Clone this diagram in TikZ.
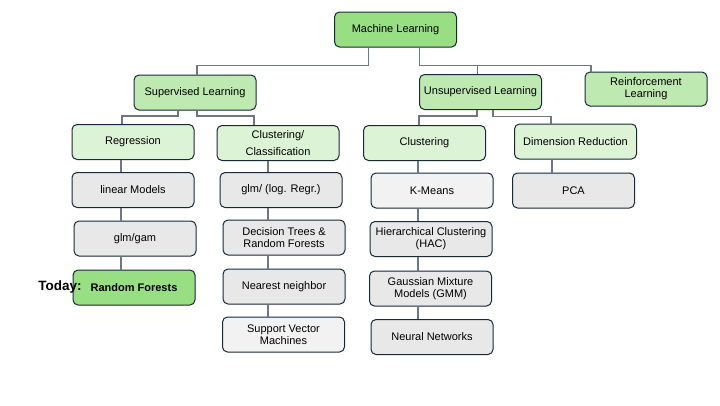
\documentclass[tikz,border=0pt]{standalone}
\usepackage{fontspec}
\setmainfont{Liberation Sans}
\usepackage{tikz}
\definecolor{leafgreen}{RGB}{152, 222, 130}
\definecolor{midgreen}{RGB}{190, 233, 176}
\definecolor{palegreen}{RGB}{221, 243, 214}
\definecolor{boxgray}{RGB}{232, 232, 232}
\definecolor{softgray}{RGB}{242, 242, 242}
\definecolor{inkblue}{RGB}{25, 40, 58}
\definecolor{wiregray}{RGB}{110, 120, 130}

\begin{document}
\begin{tikzpicture}[x=1pt, y=-1pt,
        box/.style={draw=inkblue, line width=1pt, rounded corners=5pt, minimum width=122pt,
                    minimum height=35pt, align=center, inner sep=2pt, font=\fontsize{11}{12}\selectfont},
        link/.style={draw=wiregray, line width=1.2pt}]
            % Frame to fix the page size:
            \useasboundingbox (0,0) rectangle (720,405);
            % Top and first level:
            \node[box, fill=leafgreen]  (ml)    at (395.5, 29.5) {Machine Learning};
            \node[box, fill=midgreen]   (sup)   at (195.0, 92.5) {Supervised Learning};
            \node[box, fill=midgreen]   (unsup) at (480.5, 92.0) {Unsupervised Learning};
            \node[box, fill=midgreen, minimum height=34pt] (rl) at (646.0, 89.0) {Reinforcement\\Learning};
            % Second level:
            \node[box, fill=palegreen]  (reg)   at (133.0, 142.0) {Regression};
            \node[box, fill=palegreen]  (cc)    at (278.0, 143.0) {Clustering/\\[5pt]Classification};
            \node[box, fill=palegreen]  (clu)   at (424.5, 143.0) {Clustering};
            \node[box, fill=palegreen]  (dr)    at (575.5, 141.5) {Dimension Reduction};
            % Methods:
            \node[box, fill=boxgray]    (lin)   at (133.0, 190.0) {linear Models};
            \node[box, fill=boxgray]    (gam)   at (135.0, 238.5) {glm/gam};
            \node[box, fill=leafgreen, font=\fontsize{11}{12}\selectfont\bfseries] (rf) at (134.0, 287.5) {Random Forests};
            \node[box, fill=boxgray]    (glml)  at (281.0, 190.0) {glm/ (log. Regr.)};
            \node[box, fill=boxgray]    (dt)    at (284.0, 237.5) {Decision Trees \&\\Random Forests};
            \node[box, fill=boxgray]    (nn)    at (284.0, 286.5) {Nearest neighbor};
            \node[box, fill=softgray]   (svm)   at (283.5, 334.5) {Support Vector\\Machines};
            \node[box, fill=softgray]   (km)    at (432.0, 190.5) {K-Means};
            \node[box, fill=boxgray]    (hac)   at (431.0, 239.0) {Hierarchical Clustering\\(HAC)};
            \node[box, fill=boxgray]    (gmm)   at (430.5, 288.5) {Gaussian Mixture\\Models (GMM)};
            \node[box, fill=boxgray]    (nnw)   at (432.0, 337.0) {Neural Networks};
            \node[box, fill=boxgray]    (pca)   at (573.5, 190.5) {PCA};
            \node[font=\fontsize{13.5}{15}\selectfont\bfseries] (today) at (60.0, 287.5) {Today:};
            % Branches:
            \draw[link] ([xshift=-27pt]ml.south) |- ([xshift=2pt, yshift=9pt]sup.north) -- ([xshift=2pt]sup.north);
            \draw[link] ([xshift=24pt]ml.south) |- ([xshift=-55pt, yshift=6pt]rl.north) -- ([xshift=-55pt]rl.north);
            \draw[link] ([xshift=-3pt, yshift=9pt]unsup.north) -- ([xshift=-3pt]unsup.north);
            \draw[link] ([xshift=-17pt]sup.south) |- ([xshift=-11pt, yshift=8pt]reg.north) -- ([xshift=-11pt]reg.north);
            \draw[link] ([xshift=2pt]sup.south) |- ([xshift=-24pt, yshift=9pt]cc.north) -- ([xshift=-24pt]cc.north);
            \draw[link] ([xshift=-3.5pt]unsup.south) |- ([xshift=-5.5pt, yshift=9pt]clu.north) -- ([xshift=-5.5pt]clu.north);
            \draw[link] ([xshift=12.5pt]unsup.south) |- ([xshift=-24.5pt, yshift=7pt]dr.north) -- ([xshift=-24.5pt]dr.north);
            % Columns:
            \coordinate (colR) at (121, 0);
            \coordinate (colC) at (268, 0);
            \coordinate (colU) at (418, 0);
            \coordinate (colD) at (552, 0);
            \draw[link] (reg.south -| colR) -- (lin.north -| colR)  (lin.south -| colR) -- (gam.north -| colR)
                        (gam.south -| colR) -- (rf.north -| colR);
            \draw[link] (cc.south -| colC) -- (glml.north -| colC)  (glml.south -| colC) -- (dt.north -| colC)
                        (dt.south -| colC) -- (nn.north -| colC)    (nn.south -| colC) -- (svm.north -| colC);
            \draw[link] (clu.south -| colU) -- (km.north -| colU)   (km.south -| colU) -- (hac.north -| colU)
                        (hac.south -| colU) -- (gmm.north -| colU)  (gmm.south -| colU) -- (nnw.north -| colU);
            \draw[link] (dr.south -| colD) -- (pca.north -| colD);
        \end{tikzpicture}
\end{document}
